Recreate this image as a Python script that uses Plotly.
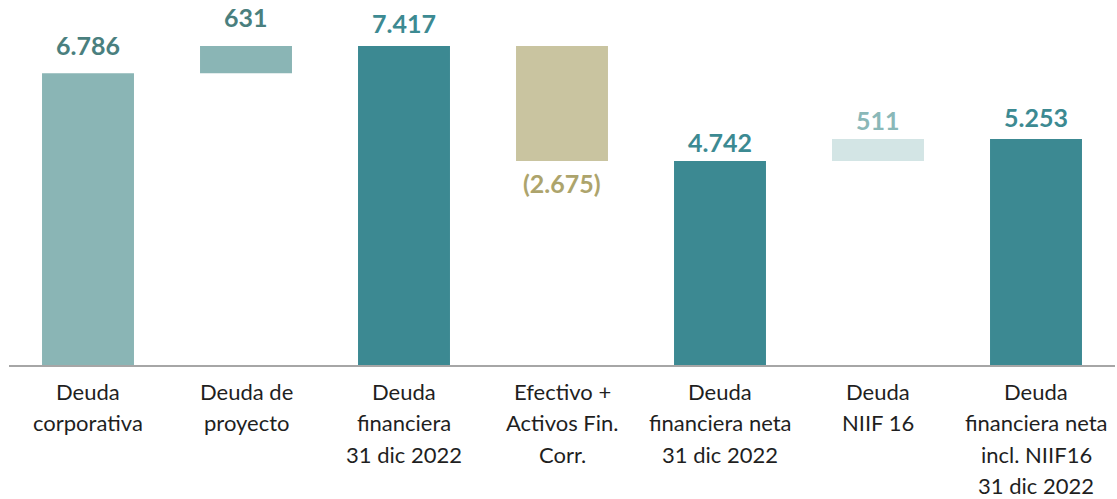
import plotly.graph_objects as go

categories = ["Deuda corporativa", "Deuda de proyecto", "Deuda financiera 31 dic 2022",
              "Efectivo + Activos Fin. Corr.", "Deuda financiera neta 31 dic 2022",
              "Deuda NIIF 16", "Deuda financiera neta incl. NIIF16 31 dic 2022"]
category_lines = [["Deuda", "corporativa"], ["Deuda de", "proyecto"], ["Deuda", "financiera", "31 dic 2022"],
                  ["Efectivo +", "Activos Fin.", "Corr."], ["Deuda", "financiera neta", "31 dic 2022"],
                  ["Deuda", "NIIF 16"], ["Deuda", "financiera neta", "incl. NIIF16", "31 dic 2022"]]
values = [6786, 631, 7417, -2675, 4742, 511, 5253]
kinds = ["absolute", "relative", "total", "relative", "total", "relative", "total"]
labels = ["6.786", "631", "7.417", "(2.675)", "4.742", "511", "5.253"]

# styles
bar_colors = ["#8AB5B5", "#8AB5B5", "#3C8992", "#C9C4A0", "#3C8992", "#D3E5E5", "#3C8992"]
label_colors = ["#4A7F7E", "#4A7F7E", "#3C8A92", "#ADA46C", "#3C8A92", "#8AB8B8", "#3C8A92"]
label_shift = [11, 12, 6, -5, 2, 2.5, 5.5]

# bases from the waterfall logic
bases, running = [], 0
for v, k in zip(values, kinds):
    if k == "relative":
        bases.append(running)
        running += v
    else:
        bases.append(0)
        running = v
bar_y, bar_base = [], []
for v, k, b in zip(values, kinds, bases):
    if k == "relative" and v < 0:
        bar_base.append(b + v)
        bar_y.append(-v)
    else:
        bar_base.append(b)
        bar_y.append(v)

x = list(range(len(categories)))
fig = go.Figure(go.Bar(x=x, y=bar_y, base=bar_base, marker=dict(color=bar_colors, line=dict(width=0)),
                       hoverinfo="skip"))

for i, (v, k, b, lab, c, s) in enumerate(zip(values, kinds, bases, labels, label_colors, label_shift)):
    if v < 0:
        fig.add_annotation(x=i, y=b + v, text=lab, showarrow=False, yanchor="top", yshift=s,
                           font=dict(family="Lato", size=25, color=c, weight="bold"))
    else:
        top = b + v if k == "relative" else v
        fig.add_annotation(x=i, y=top, text=lab, showarrow=False, yanchor="bottom", yshift=s,
                           font=dict(family="Lato", size=25, color=c, weight="bold"))

for i, lines in enumerate(category_lines):
    for j, line in enumerate(lines):
        fig.add_annotation(x=i, y=0, yref="paper", text=line, showarrow=False, yanchor="middle",
                           yshift=-(26 + 31.5 * j),
                           font=dict(family="Lato", size=22, color="#1F1F1F"))

fig.update_layout(
    width=1117, height=499,
    margin=dict(l=9, r=2, t=0, b=134, autoexpand=False),
    plot_bgcolor="white", paper_bgcolor="white",
    bargap=0.418, showlegend=False, hovermode=False,
    font=dict(family="Lato", size=19, color="#1F1F1F"),
    xaxis=dict(tickmode="array", tickvals=x, ticktext=[""] * len(x), showline=True,
               linecolor="#A6A6A6", linewidth=1.5, automargin=False,
               range=[-0.5, 6.5], showgrid=False, zeroline=False),
    yaxis=dict(range=[0, 8487], visible=False, showgrid=False, zeroline=False, automargin=False),
)

fig.write_html("out.html", config={"displayModeBar": False, "staticPlot": True},
               post_script="document.body.style.margin='0';document.body.style.overflow='hidden';")
